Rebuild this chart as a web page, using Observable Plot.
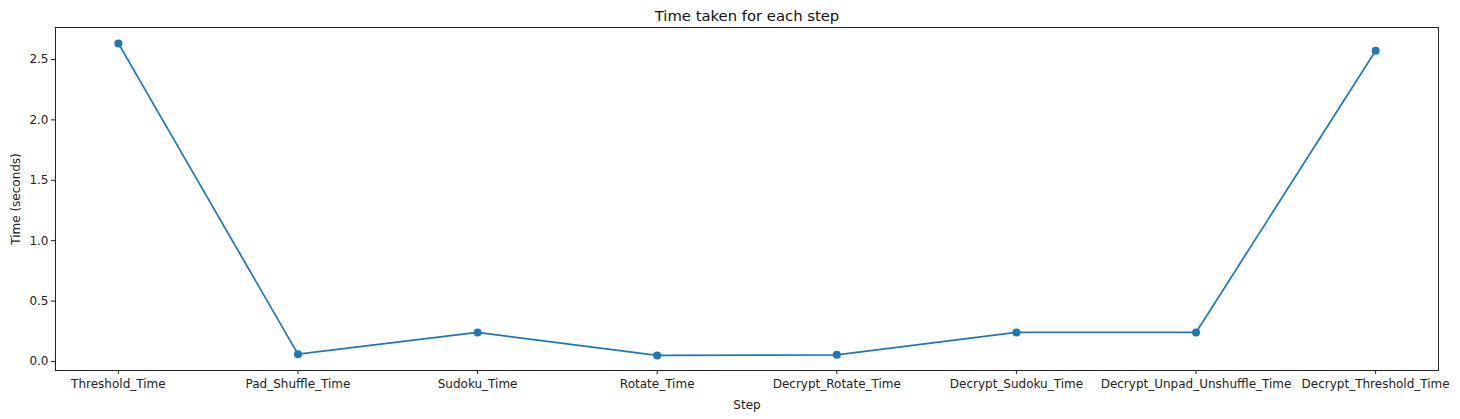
<!DOCTYPE html>
<html>
<head>
<meta charset="utf-8">
<script src="https://cdn.jsdelivr.net/npm/d3@7"></script>
<script src="https://cdn.jsdelivr.net/npm/@observablehq/plot@0.6"></script>
<style>
  html, body { margin: 0; padding: 0; background: #fff; }
  #chart svg { display: block; }
</style>
</head>
<body>
<div id="chart"></div>
<script>
const steps = [
  "Threshold_Time",
  "Pad_Shuffle_Time",
  "Sudoku_Time",
  "Rotate_Time",
  "Decrypt_Rotate_Time",
  "Decrypt_Sudoku_Time",
  "Decrypt_Unpad_Unshuffle_Time",
  "Decrypt_Threshold_Time"
];
const times = [2.633, 0.060, 0.240, 0.050, 0.055, 0.240, 0.240, 2.573];
const yTicks = [0, 0.5, 1.0, 1.5, 2.0, 2.5];
const title = "Time taken for each step";

const data = steps.map((s, i) => ({step: s, time: times[i]}));
const blue = "#1f77b4";
const font = "DejaVu Sans, sans-serif";

const chart = Plot.plot({
  width: 1460,
  height: 419,
  marginLeft: 55,
  marginRight: 22,
  marginTop: 27,
  marginBottom: 49,
  style: {fontFamily: font, fontSize: "12px", color: "#222", background: "#fff"},
  x: {type: "point", domain: steps, padding: 0.35, round: false, label: null},
  y: {domain: [-0.075, 2.765], label: null},
  marks: [
    Plot.frame({stroke: "#222", strokeWidth: 1}),
    Plot.axisX({tickSize: 4, tickPadding: 5, fontSize: 12, label: "Step", labelAnchor: "center", labelArrow: "none", labelOffset: 38}),
    Plot.axisY({ticks: yTicks, tickFormat: d3.format(".1f"), tickSize: 4, tickPadding: 3, fontSize: 12, label: "Time (seconds)", labelAnchor: "center", labelArrow: "none", labelOffset: 44}),
    Plot.line(data, {x: "step", y: "time", stroke: blue, strokeWidth: 1.7}),
    Plot.dot(data, {x: "step", y: "time", fill: blue, r: 4}),
    Plot.text([title], {frameAnchor: "top", dy: -17, text: d => d, fontSize: 14.8, fill: "#111"})
  ]
});
document.getElementById("chart").appendChild(chart);
</script>
</body>
</html>
